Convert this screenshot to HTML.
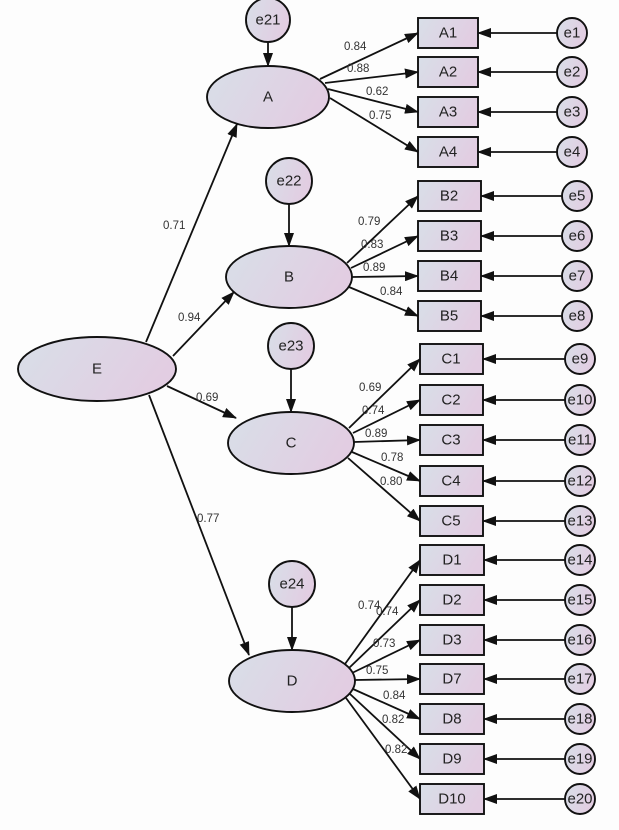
<!DOCTYPE html>
<html><head><meta charset="utf-8"><style>
html,body{margin:0;padding:0;background:#fdfdfd;}
svg{display:block;font-family:"Liberation Sans",Arial,sans-serif;}
.n{fill:url(#g);stroke:#111;stroke-width:1.9;}
.l{stroke:#111;stroke-width:1.8;fill:none;marker-end:url(#ah);}
.t{font-size:15px;fill:#222;text-anchor:middle;dominant-baseline:central;}
.w{font-size:11.5px;fill:#333;}
</style></head><body>
<svg width="619" height="830" viewBox="0 0 619 830" xmlns="http://www.w3.org/2000/svg">
<defs>
<linearGradient id="g" x1="0" y1="0" x2="1" y2="0.3"><stop offset="0" stop-color="#d8dfe8"/><stop offset="1" stop-color="#e2cde2"/></linearGradient>
<marker id="ah" markerWidth="14" markerHeight="10" refX="13" refY="5" orient="auto" markerUnits="userSpaceOnUse"><path d="M0,0 L14,5 L0,10 z" fill="#111"/></marker>
</defs>
<rect width="619" height="830" fill="#fdfdfd"/>

<line class="l" x1="146" y1="342" x2="237" y2="124"/>
<line class="l" x1="173" y1="356" x2="234" y2="292"/>
<line class="l" x1="167" y1="386" x2="236" y2="418"/>
<line class="l" x1="149" y1="395" x2="249" y2="655"/>

<line class="l" x1="268" y1="42" x2="268" y2="66"/>
<line class="l" x1="289" y1="204" x2="289" y2="246"/>
<line class="l" x1="291" y1="369" x2="291" y2="412"/>
<line class="l" x1="292" y1="607" x2="292" y2="650"/>

<line class="l" x1="320" y1="79" x2="418" y2="33"/>
<line class="l" x1="325" y1="83" x2="418" y2="72"/>
<line class="l" x1="328" y1="89" x2="418" y2="112"/>
<line class="l" x1="330" y1="98" x2="418" y2="152"/>
<line class="l" x1="347" y1="263" x2="418" y2="196"/>
<line class="l" x1="351" y1="268" x2="418" y2="236"/>
<line class="l" x1="352" y1="277" x2="418" y2="276"/>
<line class="l" x1="349" y1="287" x2="418" y2="316"/>
<line class="l" x1="349" y1="428" x2="420" y2="359"/>
<line class="l" x1="353" y1="433" x2="420" y2="400"/>
<line class="l" x1="354" y1="442" x2="420" y2="440"/>
<line class="l" x1="352" y1="452" x2="420" y2="481"/>
<line class="l" x1="348" y1="458" x2="420" y2="521"/>
<line class="l" x1="345" y1="664" x2="420" y2="560"/>
<line class="l" x1="349" y1="668" x2="420" y2="600"/>
<line class="l" x1="352" y1="673" x2="420" y2="640"/>
<line class="l" x1="355" y1="680" x2="420" y2="679"/>
<line class="l" x1="353" y1="689" x2="420" y2="719"/>
<line class="l" x1="350" y1="694" x2="420" y2="759"/>
<line class="l" x1="346" y1="698" x2="420" y2="799"/>

<g>
<line class="l" x1="557" y1="33" x2="478" y2="33"/>
<line class="l" x1="557" y1="72" x2="478" y2="72"/>
<line class="l" x1="557" y1="112" x2="478" y2="112"/>
<line class="l" x1="557" y1="152" x2="478" y2="152"/>
<line class="l" x1="562" y1="196" x2="481" y2="196"/>
<line class="l" x1="562" y1="236" x2="481" y2="236"/>
<line class="l" x1="562" y1="276" x2="481" y2="276"/>
<line class="l" x1="562" y1="316" x2="481" y2="316"/>
<line class="l" x1="565" y1="359" x2="483" y2="359"/>
<line class="l" x1="565" y1="400" x2="483" y2="400"/>
<line class="l" x1="565" y1="440" x2="483" y2="440"/>
<line class="l" x1="565" y1="481" x2="483" y2="481"/>
<line class="l" x1="565" y1="521" x2="483" y2="521"/>
<line class="l" x1="565" y1="560" x2="484" y2="560"/>
<line class="l" x1="565" y1="600" x2="484" y2="600"/>
<line class="l" x1="565" y1="640" x2="484" y2="640"/>
<line class="l" x1="565" y1="679" x2="484" y2="679"/>
<line class="l" x1="565" y1="719" x2="484" y2="719"/>
<line class="l" x1="565" y1="759" x2="484" y2="759"/>
<line class="l" x1="565" y1="799" x2="484" y2="799"/>
</g>

<ellipse class="n" cx="97" cy="369" rx="79" ry="32"/><text class="t" x="97" y="369">E</text>
<ellipse class="n" cx="268" cy="97" rx="61" ry="31"/><text class="t" x="268" y="97">A</text>
<ellipse class="n" cx="289" cy="277" rx="63" ry="31"/><text class="t" x="289" y="277">B</text>
<ellipse class="n" cx="291" cy="443" rx="63" ry="31"/><text class="t" x="291" y="443">C</text>
<ellipse class="n" cx="292" cy="681" rx="63" ry="31"/><text class="t" x="292" y="681">D</text>

<circle class="n" cx="268" cy="20" r="22"/><text class="t" x="268" y="20">e21</text>
<circle class="n" cx="289" cy="181" r="23"/><text class="t" x="289" y="181">e22</text>
<circle class="n" cx="291" cy="346" r="23"/><text class="t" x="291" y="346">e23</text>
<circle class="n" cx="292" cy="584" r="23"/><text class="t" x="292" y="584">e24</text>

<rect class="n" x="418" y="18" width="60" height="30"/><text class="t" x="448" y="33">A1</text>
<rect class="n" x="418" y="57" width="60" height="30"/><text class="t" x="448" y="72">A2</text>
<rect class="n" x="418" y="97" width="60" height="30"/><text class="t" x="448" y="112">A3</text>
<rect class="n" x="418" y="137" width="60" height="30"/><text class="t" x="448" y="152">A4</text>
<rect class="n" x="418" y="181" width="63" height="30"/><text class="t" x="449" y="196">B2</text>
<rect class="n" x="418" y="221" width="63" height="30"/><text class="t" x="449" y="236">B3</text>
<rect class="n" x="418" y="261" width="63" height="30"/><text class="t" x="449" y="276">B4</text>
<rect class="n" x="418" y="301" width="63" height="30"/><text class="t" x="449" y="316">B5</text>
<rect class="n" x="420" y="344" width="63" height="30"/><text class="t" x="451" y="359">C1</text>
<rect class="n" x="420" y="385" width="63" height="30"/><text class="t" x="451" y="400">C2</text>
<rect class="n" x="420" y="425" width="63" height="30"/><text class="t" x="451" y="440">C3</text>
<rect class="n" x="420" y="466" width="63" height="30"/><text class="t" x="451" y="481">C4</text>
<rect class="n" x="420" y="506" width="63" height="30"/><text class="t" x="451" y="521">C5</text>
<rect class="n" x="420" y="545" width="64" height="30"/><text class="t" x="452" y="560">D1</text>
<rect class="n" x="420" y="585" width="64" height="30"/><text class="t" x="452" y="600">D2</text>
<rect class="n" x="420" y="625" width="64" height="30"/><text class="t" x="452" y="640">D3</text>
<rect class="n" x="420" y="664" width="64" height="30"/><text class="t" x="452" y="679">D7</text>
<rect class="n" x="420" y="704" width="64" height="30"/><text class="t" x="452" y="719">D8</text>
<rect class="n" x="420" y="744" width="64" height="30"/><text class="t" x="452" y="759">D9</text>
<rect class="n" x="420" y="784" width="64" height="30"/><text class="t" x="452" y="799">D10</text>

<circle class="n" cx="572" cy="33" r="15"/><text class="t" x="572" y="33">e1</text>
<circle class="n" cx="572" cy="72" r="15"/><text class="t" x="572" y="72">e2</text>
<circle class="n" cx="572" cy="112" r="15"/><text class="t" x="572" y="112">e3</text>
<circle class="n" cx="572" cy="152" r="15"/><text class="t" x="572" y="152">e4</text>
<circle class="n" cx="577" cy="196" r="15"/><text class="t" x="577" y="196">e5</text>
<circle class="n" cx="577" cy="236" r="15"/><text class="t" x="577" y="236">e6</text>
<circle class="n" cx="577" cy="276" r="15"/><text class="t" x="577" y="276">e7</text>
<circle class="n" cx="577" cy="316" r="15"/><text class="t" x="577" y="316">e8</text>
<circle class="n" cx="580" cy="359" r="15"/><text class="t" x="580" y="359">e9</text>
<circle class="n" cx="580" cy="400" r="15"/><text class="t" x="580" y="400">e10</text>
<circle class="n" cx="580" cy="440" r="15"/><text class="t" x="580" y="440">e11</text>
<circle class="n" cx="580" cy="481" r="15"/><text class="t" x="580" y="481">e12</text>
<circle class="n" cx="580" cy="521" r="15"/><text class="t" x="580" y="521">e13</text>
<circle class="n" cx="580" cy="560" r="15"/><text class="t" x="580" y="560">e14</text>
<circle class="n" cx="580" cy="600" r="15"/><text class="t" x="580" y="600">e15</text>
<circle class="n" cx="580" cy="640" r="15"/><text class="t" x="580" y="640">e16</text>
<circle class="n" cx="580" cy="679" r="15"/><text class="t" x="580" y="679">e17</text>
<circle class="n" cx="580" cy="719" r="15"/><text class="t" x="580" y="719">e18</text>
<circle class="n" cx="580" cy="759" r="15"/><text class="t" x="580" y="759">e19</text>
<circle class="n" cx="580" cy="799" r="15"/><text class="t" x="580" y="799">e20</text>

<g class="w">
<text x="344" y="50">0.84</text><text x="347" y="72">0.88</text><text x="366" y="95">0.62</text><text x="369" y="119">0.75</text>
<text x="163" y="229">0.71</text><text x="178" y="321">0.94</text><text x="196" y="401">0.69</text><text x="197" y="522">0.77</text>
<text x="358" y="225">0.79</text><text x="361" y="248">0.83</text><text x="363" y="271">0.89</text><text x="380" y="295">0.84</text>
<text x="359" y="391">0.69</text><text x="362" y="414">0.74</text><text x="365" y="437">0.89</text><text x="381" y="461">0.78</text><text x="380" y="485">0.80</text>
<text x="358" y="609">0.74</text><text x="376" y="615">0.74</text><text x="373" y="647">0.73</text><text x="366" y="674">0.75</text><text x="383" y="699">0.84</text><text x="382" y="723">0.82</text><text x="385" y="753">0.82</text>
</g>
</svg>
</body></html>
